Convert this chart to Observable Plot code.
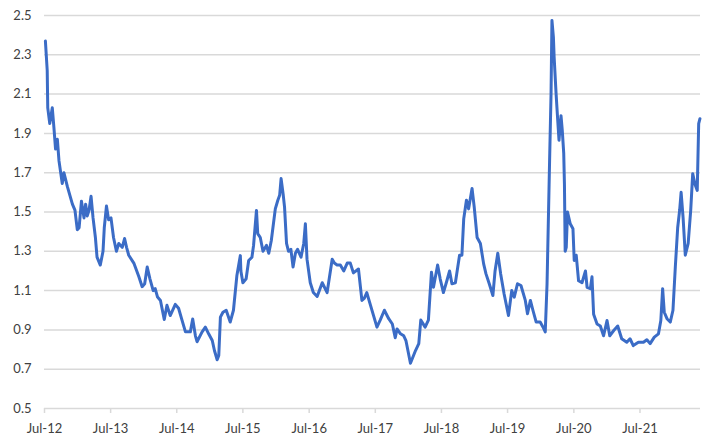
<!DOCTYPE html>
<html>
<head>
<meta charset="utf-8">
<script src="https://cdn.jsdelivr.net/npm/d3@7"></script>
<script src="https://cdn.jsdelivr.net/npm/@observablehq/plot@0.6"></script>
<style>
  html, body { margin: 0; padding: 0; background: #ffffff; }
  #chart { width: 708px; height: 445px; }
</style>
</head>
<body>
<div id="chart"></div>
<script>
const dates = [
  "2012-07-06","2012-07-16","2012-07-19","2012-07-30","2012-08-13","2012-08-22","2012-08-31","2012-09-10","2012-09-19","2012-10-07",
  "2012-10-16","2012-11-04","2012-12-02","2012-12-16","2012-12-29","2013-01-08","2013-01-21","2013-02-04","2013-02-13","2013-02-22",
  "2013-03-04","2013-03-15","2013-03-26","2013-04-08","2013-04-17","2013-05-05","2013-05-20","2013-05-27","2013-06-08","2013-06-20",
  "2013-07-03","2013-07-17","2013-08-02","2013-08-15","2013-09-03","2013-09-16","2013-09-27","2013-10-09","2013-11-06","2013-12-04",
  "2013-12-22","2014-01-05","2014-01-19","2014-02-03","2014-02-21","2014-03-04","2014-03-17","2014-04-02","2014-04-23","2014-05-08",
  "2014-05-26","2014-06-23","2014-07-11","2014-07-30","2014-08-18","2014-09-14","2014-09-27","2014-10-12","2014-10-21","2014-11-18",
  "2014-12-06","2014-12-24","2015-01-13","2015-01-25","2015-02-09","2015-02-18","2015-02-27","2015-03-13","2015-03-31","2015-04-22",
  "2015-05-10","2015-05-29","2015-06-17","2015-06-20","2015-07-01","2015-07-19","2015-08-02","2015-08-20","2015-08-29","2015-09-14",
  "2015-09-21","2015-10-05","2015-10-20","2015-11-08","2015-11-21","2015-12-05","2015-12-27","2016-01-10","2016-01-20","2016-01-28",
  "2016-02-09","2016-02-16","2016-02-27","2016-03-09","2016-03-22","2016-04-03","2016-04-16","2016-04-28","2016-05-17","2016-06-01",
  "2016-06-10","2016-06-19","2016-07-07","2016-07-24","2016-08-14","2016-09-11","2016-10-08","2016-11-05","2016-11-17","2016-12-02",
  "2016-12-20","2017-01-08","2017-01-27","2017-02-13","2017-03-02","2017-03-30","2017-04-18","2017-05-01","2017-05-15","2017-06-03",
  "2017-07-10","2017-07-28","2017-08-20","2017-09-13","2017-10-03","2017-10-19","2017-10-29","2017-11-17","2017-12-05","2017-12-17",
  "2018-01-11","2018-02-08","2018-02-26","2018-03-09","2018-04-02","2018-04-20","2018-05-07","2018-05-18","2018-06-10","2018-06-24",
  "2018-07-12","2018-07-31","2018-08-15","2018-08-28","2018-09-16","2018-10-09","2018-10-22","2018-11-01","2018-11-16","2018-11-28",
  "2018-12-17","2018-12-29","2019-01-14","2019-02-01","2019-02-19","2019-03-04","2019-03-22","2019-04-11","2019-04-23","2019-05-08",
  "2019-05-24","2019-06-12","2019-07-06","2019-07-24","2019-08-07","2019-08-25","2019-09-13","2019-10-07","2019-10-19","2019-11-04",
  "2019-11-18","2019-12-06","2019-12-28","2020-01-13","2020-01-25","2020-02-04","2020-02-18","2020-02-26","2020-03-02","2020-03-10",
  "2020-03-14","2020-03-25","2020-04-02","2020-04-10","2020-04-21","2020-04-28","2020-05-06","2020-05-10","2020-05-14","2020-05-20",
  "2020-05-27","2020-06-11","2020-06-26","2020-07-03","2020-07-14","2020-07-27","2020-08-15","2020-09-03","2020-09-12","2020-09-30",
  "2020-10-09","2020-10-18","2020-11-06","2020-11-24","2020-12-12","2020-12-31","2021-01-15","2021-02-06","2021-02-28","2021-03-22",
  "2021-04-19","2021-05-07","2021-05-25","2021-06-22","2021-07-20","2021-08-08","2021-08-26","2021-09-18","2021-10-11","2021-10-24",
  "2021-11-03","2021-11-12","2021-11-27","2021-12-15","2021-12-30","2022-01-12","2022-01-25","2022-02-05","2022-02-13","2022-02-24",
  "2022-03-08","2022-03-24","2022-04-07","2022-04-18","2022-05-01","2022-05-13","2022-05-21","2022-05-28"
];
const values = [
  2.37,2.22,2.03,1.95,2.03,1.93,1.82,1.87,1.76,1.645,
  1.70,1.63,1.54,1.51,1.41,1.42,1.555,1.47,1.54,1.48,
  1.51,1.58,1.47,1.37,1.27,1.23,1.30,1.42,1.53,1.46,
  1.47,1.37,1.30,1.34,1.32,1.365,1.32,1.28,1.24,1.17,
  1.12,1.135,1.22,1.16,1.10,1.11,1.067,1.05,0.953,1.025,
  0.973,1.03,1.01,0.95,0.89,0.89,0.955,0.87,0.84,0.89,
  0.914,0.88,0.846,0.795,0.748,0.77,0.965,0.99,1.0,0.94,
  1.0,1.177,1.278,1.20,1.14,1.16,1.253,1.27,1.33,1.508,
  1.39,1.37,1.30,1.33,1.29,1.355,1.516,1.56,1.585,1.67,
  1.585,1.525,1.34,1.30,1.31,1.22,1.29,1.31,1.27,1.34,
  1.44,1.26,1.14,1.09,1.07,1.14,1.09,1.26,1.24,1.23,
  1.23,1.20,1.24,1.24,1.19,1.21,1.05,1.06,1.09,1.03,
  0.914,0.95,1.0,0.957,0.93,0.86,0.905,0.88,0.87,0.846,
  0.73,0.795,0.83,0.95,0.914,0.95,1.194,1.117,1.23,1.16,
  1.09,1.15,1.20,1.135,1.14,1.28,1.28,1.465,1.56,1.516,
  1.62,1.525,1.37,1.34,1.236,1.185,1.135,1.075,1.20,1.29,
  1.185,1.083,0.973,1.10,1.067,1.135,1.126,1.05,0.982,1.05,
  1.0,0.94,0.94,0.914,0.89,1.135,1.76,2.10,2.475,2.39,
  2.29,2.10,1.98,1.865,1.99,1.915,1.80,1.64,1.30,1.32,
  1.50,1.44,1.415,1.253,1.28,1.15,1.14,1.20,1.117,1.11,
  1.17,0.98,0.93,0.92,0.87,0.948,0.87,0.897,0.92,0.855,
  0.837,0.855,0.82,0.837,0.837,0.85,0.83,0.863,0.88,0.948,
  1.11,0.99,0.957,0.94,1.0,1.22,1.42,1.51,1.60,1.47,
  1.28,1.34,1.51,1.695,1.64,1.61,1.95,1.975
];
const yTicks = [0.5, 0.7, 0.9, 1.1, 1.3, 1.5, 1.7, 1.9, 2.1, 2.3, 2.5];
const xTickLabels = ["Jul-12","Jul-13","Jul-14","Jul-15","Jul-16","Jul-17","Jul-18","Jul-19","Jul-20","Jul-21"];
const xStart = "2012-07-01";
const xEnd = "2022-05-31";

const data = dates.map((d, i) => ({date: new Date(d), value: values[i]}));
const xTicks = xTickLabels.map(l => new Date(Date.UTC(2000 + +l.slice(4), 6, 1)));
const fmt = d3.utcFormat("%b-%y");

const chart = Plot.plot({
  width: 708,
  height: 445,
  marginLeft: 44,
  marginRight: 8,
  marginTop: 15,
  marginBottom: 37,
  style: {fontFamily: "Lato, 'Open Sans', sans-serif", fontSize: "13px", color: "#595959", background: "#ffffff"},
  x: {type: "utc", domain: [new Date(xStart), new Date(xEnd)]},
  y: {domain: [0.5, 2.5]},
  marks: [
    Plot.ruleY(yTicks, {stroke: "#d9d9d9", strokeWidth: 1.5}),
    Plot.axisY({ticks: yTicks, tickSize: 0, tickPadding: 13, tickFormat: d3.format(".1f"), label: null, fill: "#404040"}),
    Plot.axisX({ticks: xTicks, tickSize: 5, tickPadding: 10, tickFormat: fmt, label: null, stroke: "#d9d9d9", strokeWidth: 1.5, fill: "#404040"}),
    Plot.line(data, {x: "date", y: "value", stroke: "#3B6CC6", strokeWidth: 3, strokeLinejoin: "round"})
  ]
});
document.getElementById("chart").appendChild(chart);
</script>
</body>
</html>
